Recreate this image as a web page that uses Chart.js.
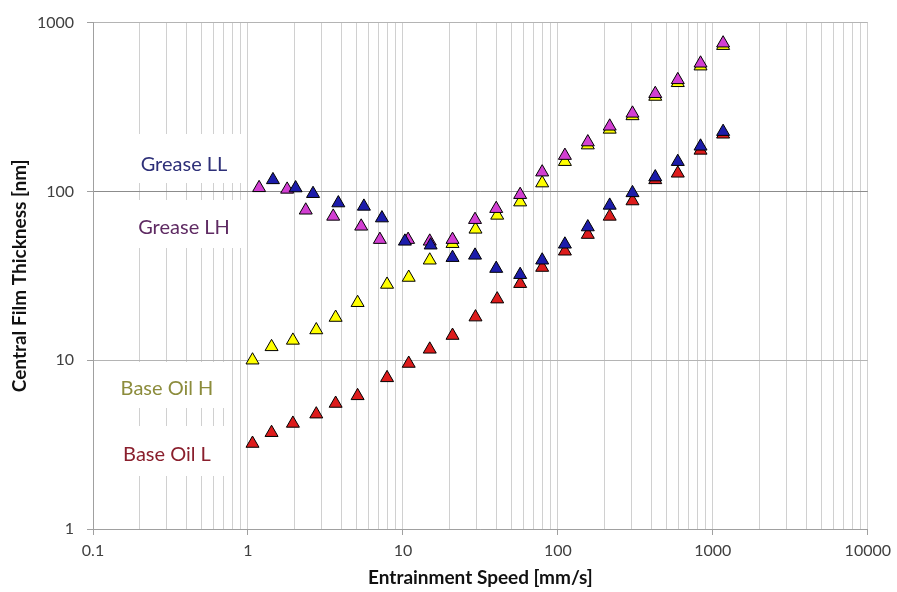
<!DOCTYPE html>
<html>
<head>
<meta charset="utf-8">
<script src="https://cdn.jsdelivr.net/npm/chart.js@4.4.1/dist/chart.umd.min.js"></script>
<style>
  body { margin: 0; background: #fff; }
  #wrap { width: 897px; height: 592px; }
</style>
</head>
<body>
<div id="wrap"><canvas id="chartCanvas" width="897" height="592"></canvas></div>
<script>
// dados (velocidade em mm/s, espessura em nm)
const baseOilSpeed = [1.07, 1.42, 1.95, 2.76, 3.68, 5.1, 7.9, 10.9, 14.9, 20.9, 29.4, 40.6, 57.1, 79.2, 111, 156, 216, 303, 425, 594, 833, 1165];
const baseOilL = [3.21, 3.72, 4.22, 4.79, 5.54, 6.15, 7.86, 9.56, 11.6, 14.0, 18.0, 23.0, 28.4, 35.4, 44.2, 55.5, 71.1, 87.7, 117, 128, 175, 218];
const baseOilH = [10.0, 12.0, 13.1, 15.1, 17.9, 21.9, 28.1, 30.9, 39.1, 49, 59.6, 72.1, 86.4, 112, 150, 188, 233, 280, 365, 440, 552, 730];

const greaseLLSpeed = [1.45, 2.03, 2.63, 3.83, 5.6, 7.32, 10.3, 15.1, 20.9, 29.2, 40.0, 57.1, 79.2, 111, 156, 216, 303, 425, 594, 833, 1165];
const greaseLL = [117, 104.7, 96.9, 85.3, 81.5, 69.5, 50.6, 48.0, 40.5, 41.8, 34.9, 32.1, 39.1, 48.6, 61.5, 82.6, 98, 121.6, 150, 185, 226];

const greaseLHSpeed = [1.18, 1.79, 2.36, 3.55, 5.38, 7.1, 10.8, 14.9, 20.9, 29.2, 40.0, 57.1, 79.2, 111, 156, 216, 303, 425, 594, 833, 1165];
const greaseLH = [105, 102.8, 77.3, 71.1, 62.1, 51.8, 51.8, 50.6, 51.8, 68, 79, 95.6, 130, 163, 196, 243, 290, 379, 458, 574, 755];

const xTickLabels = ['0.1', '1', '10', '100', '1000', '10000'];
const yTickLabels = ['1', '10', '100', '1000'];

function pts(xs, ys) {
    return xs.map((x, i) => ({ x: x, y: ys[i] }));
}

function isLabel(list, v) {
    return list.find(l => Math.abs(Number(l) - v) / v < 1e-6);
}

// rótulos das séries com fundo branco, dentro do gráfico
const seriesLabels = {
    id: 'seriesLabels',
    beforeDatasetsDraw(chart) {
        const ctx = chart.ctx;
        const boxes = [
            { ds: 0, x: 96, y: 134, w: 149, h: 49, tx: 184, ty: 165, color: '#2d2f78' },
            { ds: 1, x: 96, y: 200, w: 149, h: 48, tx: 184, ty: 228, color: '#5f2b63' },
            { ds: 2, x: 96, y: 362, w: 134, h: 46, tx: 167, ty: 389, color: '#8c8c3c' },
            { ds: 3, x: 96, y: 426, w: 134, h: 50, tx: 167, ty: 455, color: '#8a1f2d' }
        ];
        ctx.save();
        boxes.forEach(b => {
            ctx.fillStyle = '#ffffff';
            ctx.fillRect(b.x, b.y, b.w, b.h);
            ctx.fillStyle = b.color;
            ctx.font = '20px Lato';
            ctx.textAlign = 'center';
            ctx.textBaseline = 'middle';
            ctx.fillText(chart.data.datasets[b.ds].label, b.tx, b.ty);
        });
        ctx.restore();
    }
};

Chart.defaults.font.family = 'Lato';

const ctx = document.getElementById('chartCanvas').getContext('2d');
const chart = new Chart(ctx, {
    type: 'scatter',
    data: {
        datasets: [
            {
                label: 'Grease LL',
                data: pts(greaseLLSpeed, greaseLL),
                pointStyle: 'triangle',
                pointRadius: 7.5,
                backgroundColor: '#1c1caa',
                borderColor: '#000000',
                borderWidth: 1
            },
            {
                label: 'Grease LH',
                data: pts(greaseLHSpeed, greaseLH),
                pointStyle: 'triangle',
                pointRadius: 7.5,
                backgroundColor: '#d23fd2',
                borderColor: '#000000',
                borderWidth: 1
            },
            {
                label: 'Base Oil H',
                data: pts(baseOilSpeed, baseOilH),
                pointStyle: 'triangle',
                pointRadius: 7.5,
                backgroundColor: '#ffff00',
                borderColor: '#000000',
                borderWidth: 1
            },
            {
                label: 'Base Oil L',
                data: pts(baseOilSpeed, baseOilL),
                pointStyle: 'triangle',
                pointRadius: 7.5,
                backgroundColor: '#dd1c1c',
                borderColor: '#000000',
                borderWidth: 1
            }
        ]
    },
    options: {
        responsive: false,
        animation: false,
        layout: { padding: { top: 22, right: 28, left: 0, bottom: 0 } },
        plugins: {
            legend: { display: false },
            tooltip: { enabled: false }
        },
        scales: {
            x: {
                type: 'logarithmic',
                min: 0.1,
                max: 10000,
                afterBuildTicks(scale) {
                    const ticks = [];
                    xTickLabels.forEach((l, i) => {
                        const d = Number(l);
                        if (i < xTickLabels.length - 1) {
                            for (let k = 1; k < 10; k++) ticks.push({ value: d * k });
                        } else {
                            ticks.push({ value: d });
                        }
                    });
                    scale.ticks = ticks;
                },
                afterFit(scale) { scale.height = 63; },
                ticks: {
                    autoSkip: false,
                    maxRotation: 0,
                    padding: 6,
                    color: '#404040',
                    font: { size: 16 },
                    callback: (v) => isLabel(xTickLabels, v) || ''
                },
                grid: {
                    color: '#d0d0d0',
                    tickLength: 6,
                    tickColor: (c) => isLabel(xTickLabels, c.tick.value) ? '#a0a0a0' : 'rgba(0,0,0,0)'
                },
                border: { color: '#a0a0a0' },
                title: {
                    display: true,
                    text: 'Entrainment Speed [mm/s]',
                    color: '#111111',
                    font: { size: 19, weight: 'bold' },
                    padding: { top: 0, bottom: 3 }
                }
            },
            y: {
                type: 'logarithmic',
                min: 1,
                max: 1000,
                afterBuildTicks(scale) {
                    scale.ticks = yTickLabels.map(l => ({ value: Number(l) }));
                },
                afterFit(scale) { scale.width = 93; },
                ticks: {
                    autoSkip: false,
                    padding: 13,
                    color: '#404040',
                    font: { size: 16 },
                    callback: (v) => isLabel(yTickLabels, v) || ''
                },
                grid: {
                    color: (c) => c.tick && c.tick.value === 100 ? '#8c8c8c' : '#b4b4b4',
                    tickLength: 6,
                    tickColor: '#a0a0a0'
                },
                border: { color: '#a0a0a0' },
                title: {
                    display: true,
                    text: 'Central Film Thickness [nm]',
                    color: '#111111',
                    font: { size: 19, weight: 'bold' },
                    padding: { top: 8, bottom: 0 }
                }
            }
        }
    },
    plugins: [seriesLabels]
});
</script>
</body>
</html>
